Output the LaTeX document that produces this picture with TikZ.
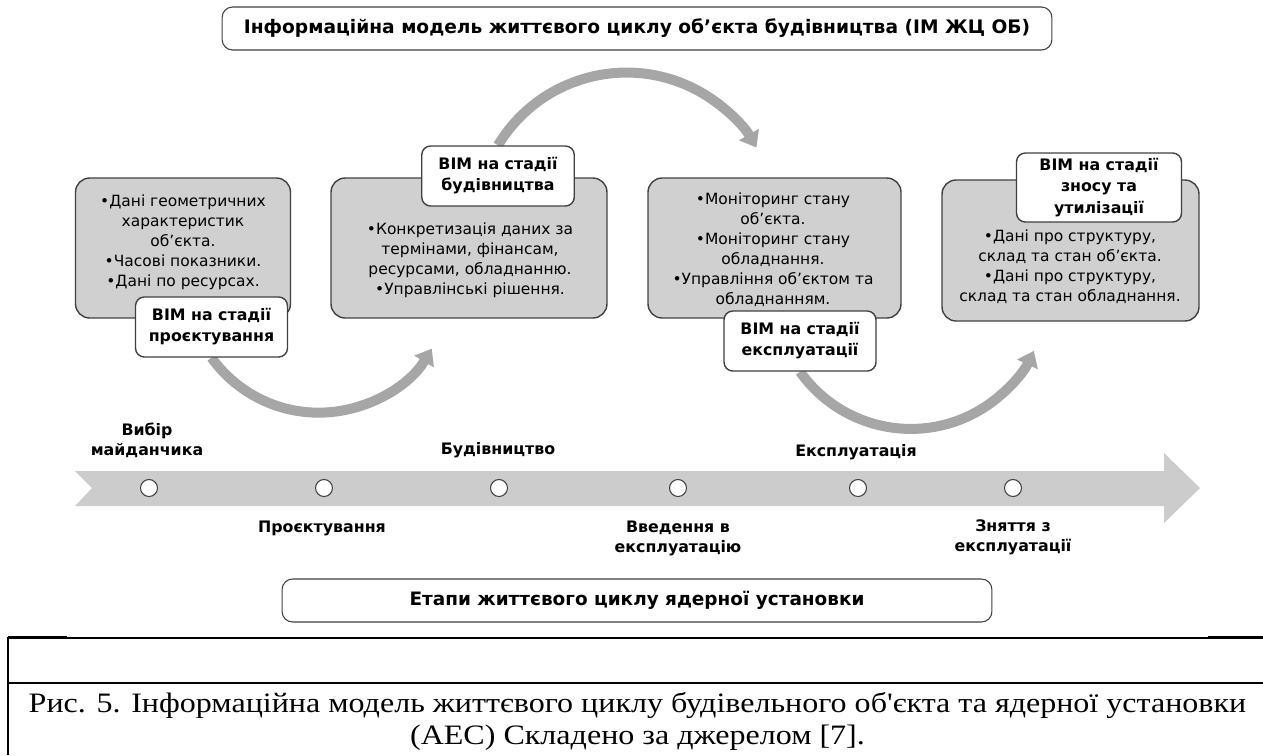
\documentclass[tikz,border=0pt]{standalone}
\usepackage{fontspec}
\setmainfont{DejaVu Sans}
\newfontfamily\capfont[FakeStretch=1.14]{Liberation Serif}
\usepackage{tikz}
\usetikzlibrary{
    arrows.meta,
    backgrounds,
    positioning
}

\definecolor{boxgray}{RGB}{208,208,208}
\definecolor{bandgray}{RGB}{204,204,204}
\definecolor{arcgray}{RGB}{166,166,166}
\definecolor{edgegray}{RGB}{64,64,64}

\tikzset{
    graybox/.style={draw=edgegray, fill=boxgray, rounded corners=8pt, line width=0.8pt, inner sep=0pt},
    boxtext/.style={align=center, inner sep=0pt, font=\fontsize{8.8}{11.4}\selectfont},
    stagebox/.style={draw=edgegray, fill=white, rounded corners=5pt, line width=0.8pt, inner sep=0pt,
        align=center, font=\bfseries\fontsize{9}{12}\selectfont},
    headbox/.style={draw=edgegray, fill=white, rounded corners=6pt, line width=0.6pt, inner sep=0pt,
        minimum height=0.86cm, font=\bfseries\fontsize{10.6}{12}\selectfont},
    milestone/.style={circle, draw=edgegray, fill=white, line width=0.6pt, minimum size=0.34cm, inner sep=0pt},
    phase/.style={align=center, inner sep=0pt, font=\bfseries\fontsize{9}{11.4}\selectfont},
    cyclearc/.style={draw=arcgray, line width=0.2cm, -{Triangle[width=0.44cm,length=0.3cm]}}
}

\begin{document}
\begin{tikzpicture}[x=0.02cm, y=-0.02cm]
                        \useasboundingbox (0,0) rectangle (1263,755);

                        \node[headbox, minimum width=16.6cm] (model) at (637,28.5) {Інформаційна модель життєвого циклу об’єкта будівництва (ІМ ЖЦ ОБ)};

                        \node[graybox, minimum width=4.30cm, minimum height=2.80cm] (design) at (183,248) {};
                        \node[graybox, minimum width=5.52cm, minimum height=2.80cm] (build) at (469,248) {};
                        \node[graybox, minimum width=5.06cm, minimum height=2.80cm] (operate) at (774.5,248) {};
                        \node[graybox, minimum width=5.14cm, minimum height=2.82cm] (demolish) at (1070.5,250.5) {};

                        \node[boxtext] (designtext) at (183,242) {•Дані геометричних\\характеристик\\об’єкта.\\•Часові показники.\\•Дані по ресурсах.};
                        \node[boxtext] (buildtext) at (470,260.5) {•Конкретизація даних за\\термінами, фінансам,\\ресурсами, обладнанню.\\•Управлінські рішення.};
                        \node[boxtext] (operatetext) at (773,250) {•Моніторинг стану\\об’єкта.\\•Моніторинг стану\\обладнання.\\•Управління об’єктом та\\обладнанням.};
                        \node[boxtext] (demolishtext) at (1070,267) {•Дані про структуру,\\склад та стан об’єкта.\\•Дані про структуру,\\склад та стан обладнання.};

                        \node[stagebox, minimum width=3.04cm, minimum height=1.2cm] (designlabel) at (211.5,327) {ВІМ на стадії\\проєктування};
                        \node[stagebox, minimum width=3.05cm, minimum height=1.2cm] (buildlabel) at (498,176) {ВІМ на стадії\\будівництва};
                        \node[stagebox, minimum width=3.04cm, minimum height=1.2cm] (operatelabel) at (800,341) {ВІМ на стадії\\експлуатації};
                        \node[stagebox, minimum width=3.30cm, minimum height=1.38cm] (demolishlabel) at (1099,187.5) {ВІМ на стадії\\зносу та\\утилізації};

                        \begin{scope}[on background layer]
                            \draw[cyclearc] (buildlabel.north) arc[start angle=149, end angle=30, radius=3cm];
                            \draw[cyclearc] (designlabel.south) arc[start angle=215.7, end angle=329, radius=2.64cm];
                            \draw[cyclearc] (operatelabel.south) arc[start angle=215.4, end angle=334.8, radius=2.72cm];
                        \end{scope}

                        \fill[bandgray] (75,471) -- (1164,471) -- (1164,453) -- (1200,488) -- (1164,523) -- (1164,506) -- (75,506) -- (92,488) -- cycle;

                        \node[milestone] (site) at (149,488) {};
                        \node[milestone] (project) at (324,488) {};
                        \node[milestone] (construction) at (499,488) {};
                        \node[milestone] (commission) at (678,488) {};
                        \node[milestone] (operation) at (858,488) {};
                        \node[milestone] (decommission) at (1013,488) {};

                        \node[phase] (sitetext) at (147,440) {Вибір\\майданчика};
                        \node[phase] (constructiontext) at (498,450) {Будівництво};
                        \node[phase] (operationtext) at (856,452) {Експлуатація};
                        \node[phase] (projecttext) at (322,528) {Проєктування};
                        \node[phase] (commissiontext) at (678,538) {Введення в\\експлуатацію};
                        \node[phase] (decommissiontext) at (1013,537) {Зняття з\\експлуатації};

                        \node[headbox, minimum width=14.2cm, font=\bfseries\fontsize{10.5}{12}\selectfont] (stages) at (637,600.5) {Етапи життєвого циклу ядерної установки};

                        \draw[line width=0.8pt] (8,638) -- (1263,638);
                        \draw[line width=1.4pt] (8,637) -- (67,637);
                        \draw[line width=1.4pt] (1208,637) -- (1263,637);
                        \draw[line width=1pt] (8,637) -- (8,755);
                        \draw[line width=1.6pt] (8,683) -- (1263,683);

                        \node[align=center, inner sep=0pt, font=\capfont\fontsize{16}{18.2}\selectfont] (caption) at (637.5,721) {Рис. 5. Інформаційна модель життєвого циклу будівельного об'єкта та ядерної установки\\(АЕС) Складено за джерелом [7].};
                    \end{tikzpicture}
\end{document}
